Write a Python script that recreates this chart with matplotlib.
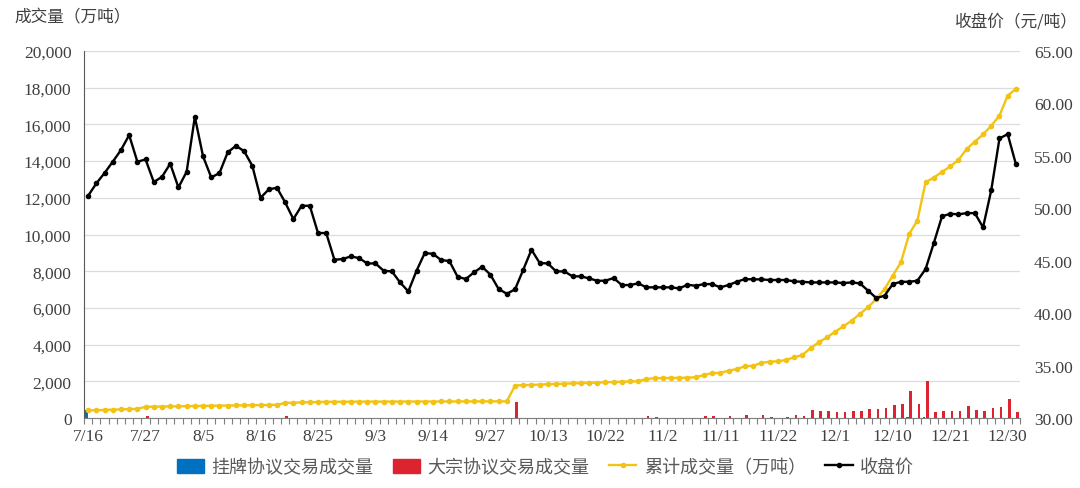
import matplotlib
matplotlib.use("Agg")
import matplotlib.pyplot as plt
import numpy as np
import pandas as pd
from matplotlib.lines import Line2D
from matplotlib.patches import Patch
from matplotlib.ticker import FuncFormatter, MultipleLocator

plt.rcParams["font.family"] = ["Liberation Serif", "Noto Sans CJK SC"]

# trading days 2021-07-16 .. 2021-12-31, Mid-Autumn / National Day closures removed
holidays = ["2021-09-20", "2021-09-21", "2021-10-01", "2021-10-04",
            "2021-10-05", "2021-10-06", "2021-10-07"]
days = pd.bdate_range("2021-07-16", "2021-12-31")
days = days[~days.isin(pd.to_datetime(holidays))]
labels = [f"{d.month}/{d.day}" for d in days]

# closing price (yuan/t), right axis
close = [
    51.19, 52.37, 53.36, 54.44, 55.55, 56.98, 54.44, 54.66, 52.50, 53.00,
    54.25, 51.99, 53.48, 58.72, 54.95, 52.94, 53.36, 55.33, 55.96, 55.45,
    54.05, 51.00, 51.80, 51.96, 50.56, 48.97, 50.24, 50.24, 47.64, 47.64,
    45.09, 45.16, 45.41, 45.25, 44.74, 44.74, 44.04, 43.98, 42.93, 42.07,
    44.04, 45.73, 45.66, 45.06, 44.97, 43.47, 43.25, 43.89, 44.43, 43.66,
    42.30, 41.85, 42.27, 44.14, 46.05, 44.78, 44.74, 43.98, 43.98, 43.51,
    43.51, 43.32, 43.09, 43.09, 43.35, 42.68, 42.68, 42.84, 42.46, 42.46,
    42.46, 42.46, 42.36, 42.71, 42.61, 42.77, 42.77, 42.46, 42.68, 42.99,
    43.25, 43.22, 43.22, 43.16, 43.16, 43.16, 43.03, 42.99, 42.93, 42.93,
    42.93, 42.93, 42.87, 42.93, 42.84, 42.14, 41.44, 41.66, 42.77, 42.99,
    42.99, 43.09, 44.20, 46.68, 49.23, 49.48, 49.42, 49.54, 49.54, 48.18,
    51.73, 56.66, 57.07, 54.21,
]

# cumulative volume (10k t), left axis
cumulative = [
    410, 425, 440, 455, 470, 485, 500, 610, 617, 624,
    631, 638, 645, 652, 659, 666, 673, 680, 687, 694,
    700, 706, 712, 718, 820, 835, 850, 862, 872, 880,
    884, 886, 888, 890, 891, 892, 893, 894, 895, 896,
    897, 898, 899, 900, 901, 902, 903, 904, 905, 906,
    907, 908, 1770, 1790, 1805, 1820, 1840, 1855, 1870, 1885,
    1900, 1915, 1930, 1945, 1960, 1975, 1990, 2005, 2120, 2170,
    2180, 2185, 2190, 2200, 2220, 2340, 2450, 2455, 2580, 2670,
    2815, 2850, 3000, 3070, 3090, 3160, 3310, 3430, 3815, 4125,
    4400, 4705, 5000, 5305, 5670, 6040, 6486, 7031, 7758, 8484,
    10028, 10754, 12846, 13100, 13410, 13710, 14060, 14660, 15060, 15450,
    15930, 16479, 17570, 17930,
]

# daily block-trade volume (10k t)
block = [
    0, 0, 0, 0, 0, 0, 0, 95, 0, 0,
    0, 0, 0, 0, 0, 0, 0, 0, 0, 0,
    0, 0, 0, 0, 100, 0, 0, 0, 0, 0,
    0, 0, 0, 0, 0, 0, 0, 0, 0, 0,
    0, 0, 0, 0, 0, 0, 0, 0, 0, 0,
    0, 0, 870, 0, 0, 0, 0, 0, 0, 0,
    0, 0, 0, 0, 0, 0, 0, 0, 110, 50,
    0, 0, 0, 0, 0, 110, 100, 0, 109, 0,
    150, 0, 140, 70, 0, 70, 150, 115, 436, 400,
    363, 309, 345, 363, 400, 490, 490, 563, 709, 745,
    1471, 745, 2017, 309, 363, 363, 400, 654, 436, 400,
    527, 600, 1036, 345,
]

# daily listed-trade volume (10k t)
listed = [410] + [0] * 99 + [50, 0, 80] + [0] * 11

series_names = ["挂牌协议交易成交量", "大宗协议交易成交量", "累计成交量（万吨）", "收盘价"]

BLUE = "#0070C0"
RED = "#DC2330"
GOLD = "#F2C314"
TXT = "#404040"

fig = plt.figure(figsize=(10.8, 4.89), dpi=100)
fig.patch.set_facecolor("white")
ax = fig.add_axes([84 / 1080, 1 - 419 / 489, (1020 - 84) / 1080, (419 - 52) / 489])
ax2 = ax.twinx()

x = np.arange(len(days))
ax.bar(x - 0.2, listed, width=0.32, color=BLUE, zorder=2)
ax.bar(x + 0.2, block, width=0.32, color=RED, zorder=2)
ax.plot(x, cumulative, color=GOLD, lw=1.7, marker="o", ms=3, zorder=3)
ax2.plot(x, close, color="black", lw=1.7, marker="o", ms=3, zorder=4)

ax.set_xlim(-0.5, len(x) - 0.5)
ax.set_ylim(0, 20000)
ax2.set_ylim(30, 65)

ax.yaxis.set_major_locator(MultipleLocator(2000))
ax.yaxis.set_major_formatter(FuncFormatter(lambda v, p: f"{v:,.0f}"))
ax2.yaxis.set_major_locator(MultipleLocator(5))
ax2.yaxis.set_major_formatter(FuncFormatter(lambda v, p: f"{v:.2f}"))

ax.grid(axis="y", color="#dcdcdc", lw=0.9, zorder=0)
ax.set_axisbelow(True)

ticks = x[::7]
ax.set_xticks(ticks)
ax.set_xticklabels([labels[i] for i in ticks])
ax.set_xticks(np.arange(-0.5, len(x)), minor=True)
ax.tick_params(axis="x", which="minor", length=4, width=0.8, color="#7f7f7f", direction="out")
ax.tick_params(axis="x", which="major", length=0, pad=7, labelsize=12.5, labelcolor=TXT)
ax.tick_params(axis="y", length=0, labelsize=12.5, labelcolor=TXT, pad=9)
ax2.tick_params(axis="y", length=0, labelsize=12.5, labelcolor=TXT, pad=10)

for s in ["top", "right"]:
    ax.spines[s].set_visible(False)
for s in ax2.spines.values():
    s.set_visible(False)
ax.spines["left"].set_color("#595959")
ax.spines["bottom"].set_color("#7f7f7f")

fig.text(14 / 1080, 1 - 18 / 489, "成交量（万吨）", ha="left", va="center",
         fontsize=12, color=TXT, family=["Noto Sans CJK SC"])
fig.text(1078 / 1080, 1 - 22 / 489, "收盘价（元/吨）", ha="right", va="center",
         fontsize=12, color=TXT, family=["Noto Sans CJK SC"])

handles = [
    Patch(color=BLUE),
    Patch(color=RED),
    Line2D([], [], color=GOLD, lw=1.7, marker="o", ms=3),
    Line2D([], [], color="black", lw=1.7, marker="o", ms=3),
]
leg = fig.legend(handles, series_names, loc="center", bbox_to_anchor=(0.505, 1 - 468 / 489),
                 ncol=4, frameon=False, handlelength=1.5, handleheight=0.8,
                 columnspacing=1.1, handletextpad=0.4,
                 prop={"family": ["Noto Sans CJK SC"], "size": 13})
for t in leg.get_texts():
    t.set_color("#595959")

fig.savefig("out.png", dpi=100, facecolor="white")
